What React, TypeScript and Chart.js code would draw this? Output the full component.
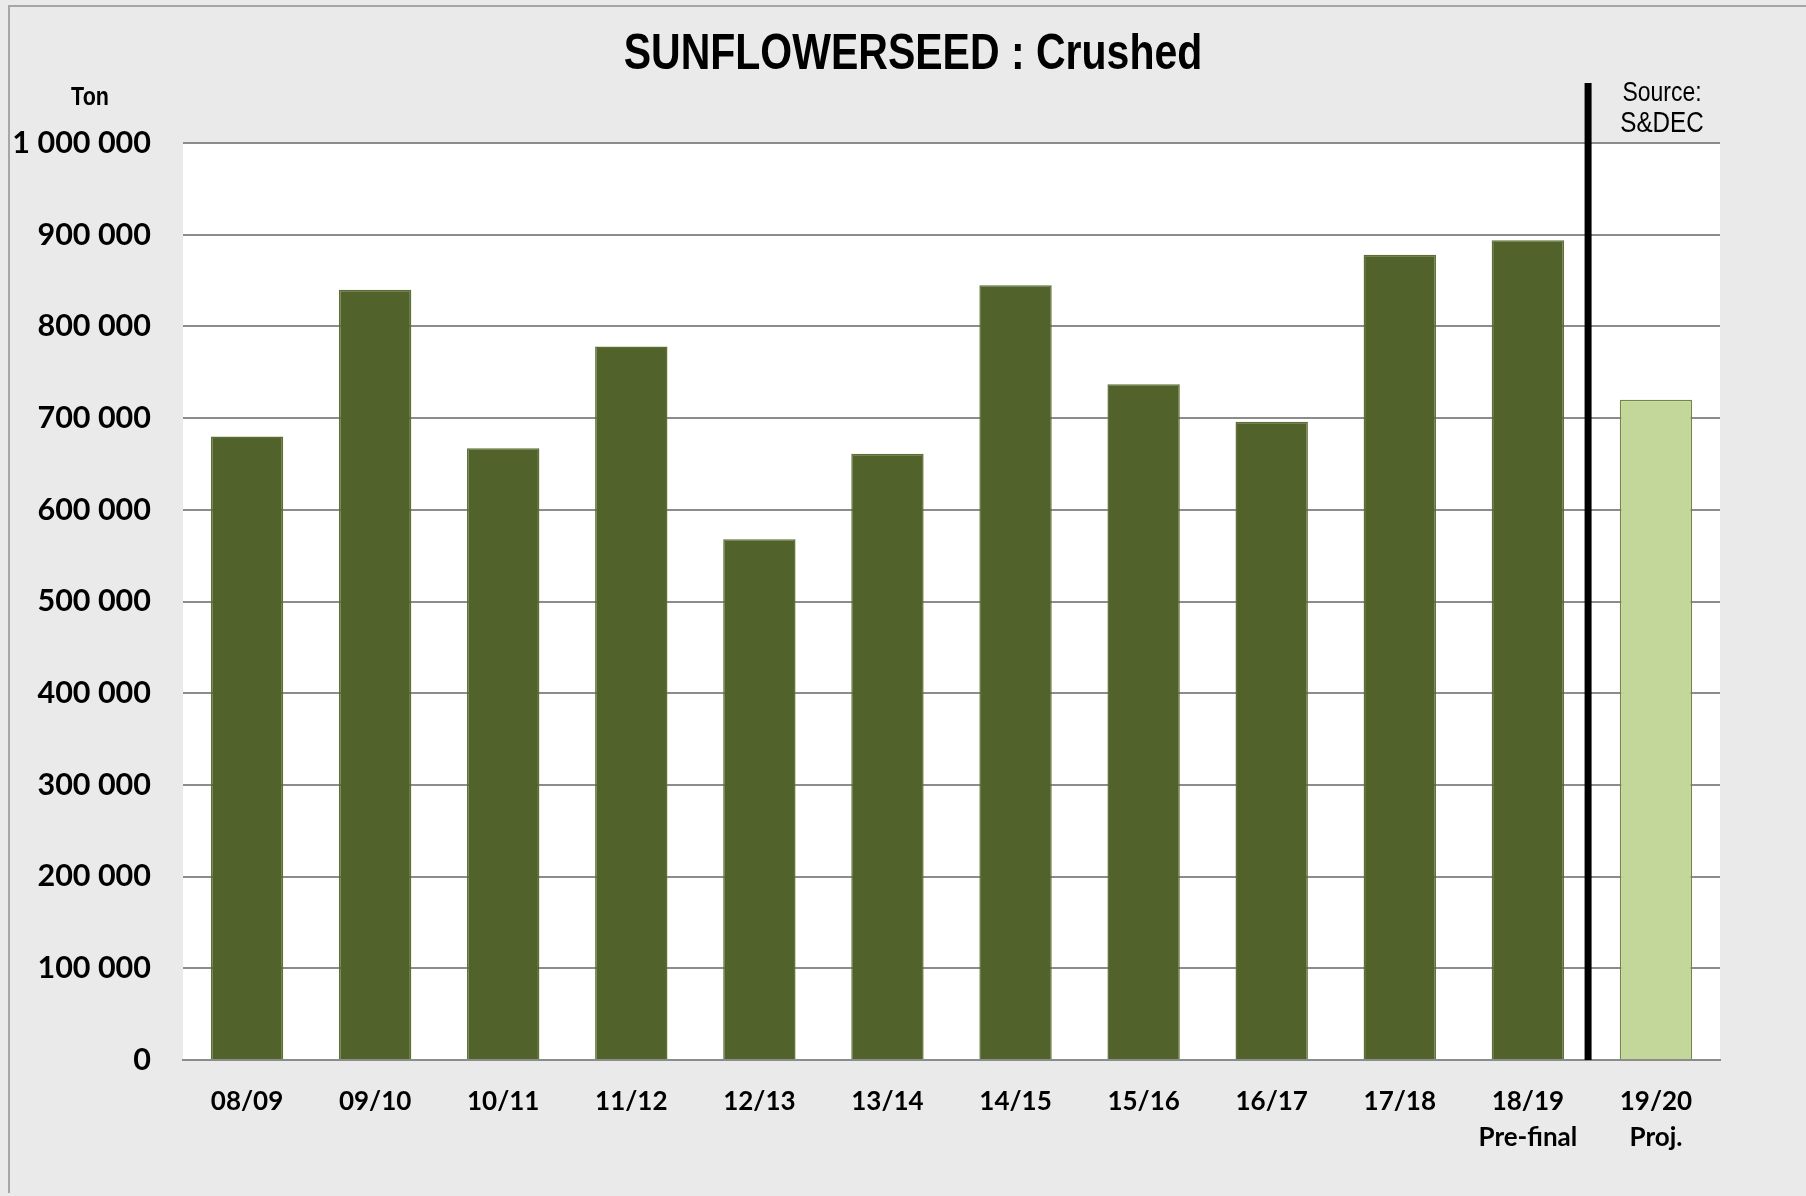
import React, { useEffect, useRef } from "react";
import { Chart, registerables } from "chart.js";

Chart.register(...registerables);

const categories: (string | string[])[] = [
  "08/09", "09/10", "10/11", "11/12", "12/13", "13/14",
  "14/15", "15/16", "16/17", "17/18", ["18/19", "Pre-final"], ["19/20", "Proj."],
];
const crushed: number[] = [
  680000, 840000, 667000, 778000, 568000, 661000,
  845000, 737000, 696000, 878000, 894000, 720000,
];
const barColors: string[] = [
  "#51632a", "#51632a", "#51632a", "#51632a", "#51632a", "#51632a",
  "#51632a", "#51632a", "#51632a", "#51632a", "#51632a", "#c4d79b",
];
const barBorders: string[] = [
  "#5d6f35", "#5d6f35", "#5d6f35", "#5d6f35", "#5d6f35", "#5d6f35",
  "#5d6f35", "#5d6f35", "#5d6f35", "#5d6f35", "#5d6f35", "#6f8a3c",
];
const titleText = "SUNFLOWERSEED : Crushed";
const unitText = "Ton";
const sourceLines: string[] = ["Source:", "S&DEC"];
const yMin = 0;
const yMax = 1000000;
const yStep = 100000;

const SANS = '"Liberation Sans", Arial, sans-serif';
const LABEL = 'Lato, "Open Sans", "Liberation Sans", sans-serif';

const fmt = (v: number) => String(v).replace(/\B(?=(\d{3})+(?!\d))/g, " ");

function narrowText(ctx: CanvasRenderingContext2D, text: string, x: number, y: number, font: string, squeeze = 0.82) {
  ctx.save();
  ctx.font = font;
  ctx.translate(x, y);
  ctx.scale(squeeze, 1);
  ctx.textAlign = "center";
  ctx.textBaseline = "middle";
  ctx.fillText(text, 0, 0);
  ctx.restore();
}

const bgPlugin = {
  id: "plotBg",
  beforeDraw(chart: any) {
    const { ctx, chartArea } = chart;
    ctx.save();
    ctx.fillStyle = "#ffffff";
    ctx.fillRect(chartArea.left, chartArea.top, chartArea.right - chartArea.left, chartArea.bottom - chartArea.top);
    ctx.restore();
  },
};

const overlayPlugin = {
  id: "overlay",
  afterDatasetsDraw(chart: any) {
    const { ctx, chartArea, scales } = chart;
    const x = scales.x.getPixelForValue(10.47);
    ctx.save();
    ctx.fillStyle = "#000000";
    ctx.fillRect(x - 3.5, chartArea.top - 60, 7, chartArea.bottom - chartArea.top + 60);
    narrowText(ctx, titleText, 913, 55, `bold 50px ${SANS}`);
    narrowText(ctx, unitText, 90, 98, `bold 25px ${SANS}`, 0.86);
    narrowText(ctx, sourceLines[0], 1662, 93, `28px ${SANS}`);
    narrowText(ctx, sourceLines[1], 1662, 124, `29.5px ${SANS}`);
    ctx.restore();
  },
};

export default function App() {
  const ref = useRef<HTMLCanvasElement | null>(null);

  useEffect(() => {
    if (!ref.current) return;
    const chart = new Chart(ref.current, {
      type: "bar",
      data: {
        labels: categories,
        datasets: [
          {
            data: crushed,
            backgroundColor: barColors,
            borderColor: barBorders,
            borderWidth: 1.5,
            categoryPercentage: 1,
            barPercentage: 0.565,
          },
        ],
      },
      options: {
        responsive: false,
        animation: false,
        layout: { padding: { top: 143, right: 86, left: 0, bottom: 0 } },
        plugins: {
          legend: { display: false },
          title: { display: false },
          tooltip: { enabled: false },
        },
        scales: {
          x: {
            grid: { display: false, drawTicks: false },
            border: { display: true, color: "#8c8c8c", width: 2 },
            ticks: {
              color: "#000000",
              font: { family: LABEL, size: 26, weight: "bold", lineHeight: 1.38 },
              padding: 24,
              maxRotation: 0,
              autoSkip: false,
            },
            afterFit(scale: any) {
              scale.height = 136;
            },
          },
          y: {
            min: yMin,
            max: yMax,
            grid: { color: "#8c8c8c", lineWidth: 2, drawTicks: false },
            border: { display: false },
            ticks: {
              stepSize: yStep,
              color: "#000000",
              font: { family: LABEL, size: 30.5, weight: "bold" },
              padding: 32,
              callback: (v: any) => fmt(Number(v)),
            },
            afterFit(scale: any) {
              scale.width = 183;
            },
          },
        },
      },
      plugins: [bgPlugin, overlayPlugin],
    });
    return () => chart.destroy();
  }, []);

  return (
    <div
      style={{
        position: "fixed",
        left: 0,
        top: 0,
        width: 1806,
        height: 1196,
        background: "#eaeaea",
        overflow: "hidden",
      }}
    >
      <div
        style={{
          position: "absolute",
          left: 8,
          top: 5,
          width: 1900,
          height: 1188,
          borderLeft: "2px solid #a6a6a6",
          borderTop: "2px solid #a6a6a6",
          boxSizing: "border-box",
        }}
      />
      <canvas ref={ref} width={1806} height={1196} style={{ position: "absolute", left: 0, top: 0 }} />
    </div>
  );
}
